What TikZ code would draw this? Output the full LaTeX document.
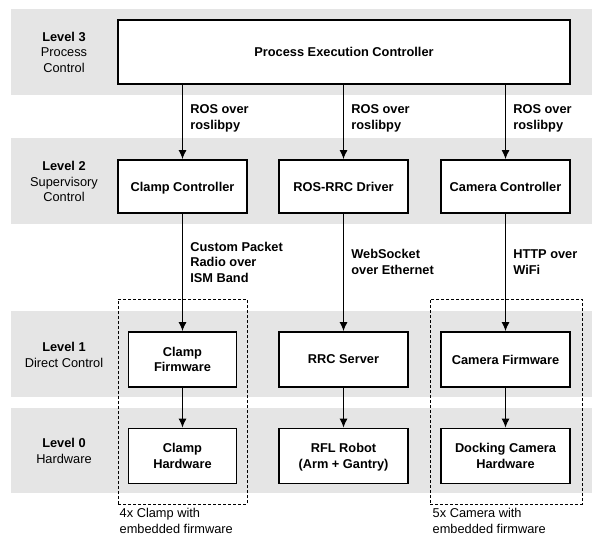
\documentclass[tikz,border=0pt]{standalone}
\usepackage{fontspec}
\setmainfont{Liberation Sans}
\usepackage{tikz}
\usetikzlibrary{arrows.meta,positioning}

\begin{document}
\begin{tikzpicture}[
    x=1pt, y=-1pt,
    node distance=96.5pt,
    >={Latex[length=9pt,width=8pt]},
    font=\fontsize{12.8}{15.5}\selectfont,
    band/.style={
		fill=black!10
	},
	box/.style={
		rectangle,
		draw=black,
		line width=1.9pt,
		align=center,
		font=\fontsize{12.8}{15.5}\selectfont\bfseries,
		execute at begin node=\vphantom{C},
		text depth=0pt,
		minimum height=53pt,
		minimum width=129pt,
		fill=white
	},
	small/.style={
		box,
		minimum height=55pt,
		minimum width=108pt
	},
	lvl/.style={
		align=center
	},
	lbl/.style={
		right,
		xshift=4pt,
		align=left,
		font=\fontsize{12.8}{15.5}\selectfont\bfseries
	},
	group/.style={
		rectangle,
		draw=black,
		line width=1pt,
		dash pattern=on 3pt off 2pt
	},
	note/.style={
		anchor=north west,
		align=left,
		inner sep=0pt
	},
	flow/.style={
		->,
		line width=1pt
	}
  ]
\useasboundingbox (0,0) rectangle (601,543);

% // the levels
\fill [band] (11,9) rectangle (592,95);
\fill [band] (11,138) rectangle (592,224);
\fill [band] (11,311) rectangle (592,397);
\fill [band] (11,408) rectangle (592,493);

\node [lvl] (lvl3) at (64,52) {\textbf{Level 3}\\Process\\Control};
\node [lvl] (lvl2) at (64,181.5) {\textbf{Level 2}\\Supervisory\\Control};
\node [lvl] (lvl1) at (64,355) {\textbf{Level 1}\\Direct Control};
\node [lvl] (lvl0) at (64,451) {\textbf{Level 0}\\Hardware};

% // the groups
\node [group, minimum width=129pt, minimum height=205pt] (clampgroup) at (182.5,401.5) {};
\node [group, minimum width=152pt, minimum height=205pt] (cameragroup) at (506,401.5) {};

% // level 3
\node [box, minimum width=452pt, minimum height=64pt] (pec) at (344,52) {Process Execution Controller};

% // level 2
\node [box] (clampctl) at (182.5,186.5) {Clamp Controller};
\node [box] (rosrrc) at (343.5,186.5) {ROS-RRC Driver};
\node [box] (camctl) at (505.5,186.5) {Camera Controller};

% // level 1
\node [small, below of=clampctl, yshift=-76.5pt] (clampfw) {Clamp\\Firmware};
\node [box, minimum height=55pt, below of=rosrrc, yshift=-76.5pt] (rrcserver) {RRC Server};
\node [box, minimum height=55pt, below of=camctl, yshift=-76.5pt] (camfw) {Camera Firmware};

% // level 0
\node [small, below of=clampfw] (clamphw) {Clamp\\Hardware};
\node [box, minimum height=55pt, below of=rrcserver] (robot) {RFL Robot\\(Arm + Gantry)};
\node [box, minimum height=55pt, below of=camfw] (camhw) {Docking Camera\\Hardware};

 \draw [flow] (pec.south -| clampctl.north) -- node [lbl, pos=0.45] {ROS over\\roslibpy} (clampctl.north);
 \draw [flow] (pec.south -| rosrrc.north) -- node [lbl, pos=0.45] {ROS over\\roslibpy} (rosrrc.north);
 \draw [flow] (pec.south -| camctl.north) -- node [lbl, pos=0.45] {ROS over\\roslibpy} (camctl.north);

 \draw [flow] (clampctl) -- node [lbl, pos=0.41] {Custom Packet\\Radio over\\ISM Band} (clampfw);
 \draw [flow] (rosrrc) -- node [lbl, pos=0.41] {WebSocket\\over Ethernet} (rrcserver);
 \draw [flow] (camctl) -- node [lbl, pos=0.41] {HTTP over\\WiFi} (camfw);

 \draw [flow] (clampfw) -- (clamphw);
 \draw [flow] (rrcserver) -- (robot);
 \draw [flow] (camfw) -- (camhw);

% // group notes
\node [note, below=4pt of clampgroup.south west, anchor=north west, xshift=2pt] (clampnote) {4x Clamp with\\embedded firmware};
\node [note, below=4pt of cameragroup.south west, anchor=north west, xshift=3pt] (cameranote) {5x Camera with\\embedded firmware};

\end{tikzpicture}
\end{document}
